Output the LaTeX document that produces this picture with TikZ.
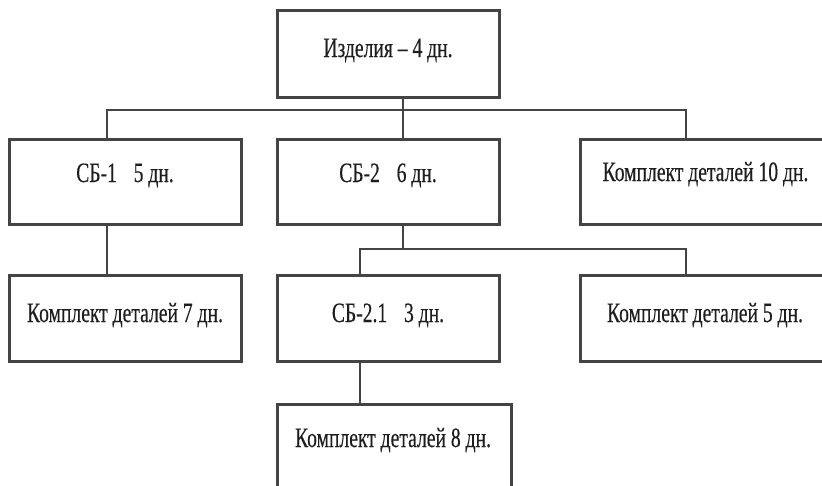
\documentclass[tikz,border=0pt]{standalone}
\usepackage{fontspec}
\setmainfont{Liberation Serif}[FakeStretch=0.70,FakeBold=0.3]
\usetikzlibrary{calc}
\definecolor{edge}{HTML}{444444}
\definecolor{ink}{HTML}{1E1E1E}
\begin{document}
\begin{tikzpicture}[x=1pt,y=-1pt,
  box/.style={draw=edge,line width=1.8pt,fill=white,rectangle},
  lbl/.style={inner sep=0pt,anchor=base,text=ink,font=\fontsize{28}{32}\selectfont},
  link/.style={draw=edge,line width=1.4pt}]
\useasboundingbox (0,0) rectangle (822,485);
\clip (0,0) rectangle (822,485);
\fill[white] (0,0) rectangle (822,485);
% boxes
\node[box,minimum width=221pt,minimum height=86pt] (top) at (388.5,54) {};
\node[box,minimum width=231pt,minimum height=84pt] (sb1) at (125.5,182) {};
\node[box,minimum width=221pt,minimum height=84pt] (sb2) at (388.5,182) {};
\node[box,minimum width=249pt,minimum height=84pt] (k10) at (705.5,182) {};
\node[box,minimum width=231pt,minimum height=85pt] (k7) at (125.5,318.5) {};
\node[box,minimum width=221pt,minimum height=85pt] (sb21) at (388.5,318.5) {};
\node[box,minimum width=249pt,minimum height=85pt] (k5) at (705.5,318.5) {};
\node[box,minimum width=233pt,minimum height=95pt] (k8) at (394.5,452.5) {};
% texts
\node[lbl] (ttop) at (388,57) {Изделия – 4 дн.};
\node[lbl] (tsb1) at (125,182) {СБ-1\hspace{0.6em}5 дн.};
\node[lbl] (tsb2) at (388,182) {СБ-2\hspace{0.6em}6 дн.};
\node[lbl] (tk10) at (705.5,181) {Комплект деталей 10 дн.};
\node[lbl] (tk7) at (125,322) {Комплект деталей 7 дн.};
\node[lbl] (tsb21) at (388,322) {СБ-2.1\hspace{0.6em}3 дн.};
\node[lbl] (tk5) at (705,322) {Комплект деталей 5 дн.};
\node[lbl] (tk8) at (393,447) {Комплект деталей 8 дн.};
% connectors
\coordinate (bus1) at (403,110);
\coordinate (bus2) at (403,249);
\draw[link] (top.south -| bus1) -- (sb2.north -| bus1);
\draw[link] ($(sb1.north west)+(98,0)$) |- (bus1) -| ($(k10.north west)+(106,0)$);
\draw[link] (sb2.south -| bus2) -- (bus2);
\draw[link] ($(sb21.north west)+(83,0)$) |- (bus2) -| ($(k5.north west)+(106,0)$);
\draw[link] ($(sb1.south west)+(98,0)$) -- ($(k7.north west)+(98,0)$);
\draw[link] ($(sb21.south west)+(83,0)$) -- ($(k8.north west)+(83,0)$);
% redraw box outlines above connectors
\foreach \n in {top,sb1,sb2,k10,k7,sb21,k5,k8}{\draw[edge,line width=1.8pt] (\n.north west) rectangle (\n.south east);}
\end{tikzpicture}
\end{document}
